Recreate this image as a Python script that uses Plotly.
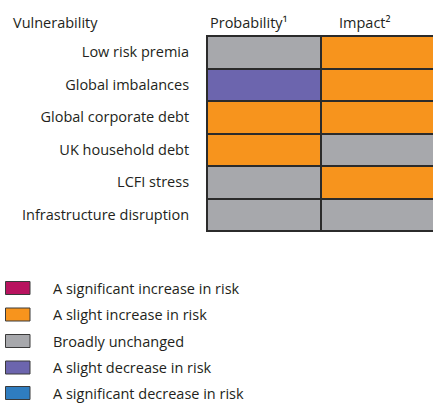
import plotly.graph_objects as go

# Data
vulnerabilities = ["Low risk premia", "Global imbalances", "Global corporate debt",
                   "UK household debt", "LCFI stress", "Infrastructure disruption"]
columns = ["Probability¹", "Impact²"]
# category codes: 0 sig decrease, 1 slight decrease, 2 unchanged, 3 slight increase, 4 sig increase
probability = [2, 1, 3, 3, 2, 2]
impact = [3, 3, 3, 2, 3, 2]
legend_labels = ["A significant increase in risk", "A slight increase in risk",
                 "Broadly unchanged", "A slight decrease in risk",
                 "A significant decrease in risk"]
legend_codes = [4, 3, 2, 1, 0]

colors = {0: "#2F7DC0", 1: "#6C65AE", 2: "#A7A8AC", 3: "#F7941D", 4: "#B8135F"}

colorscale = []
for k in range(5):
    colorscale.append([k / 5, colors[k]])
    colorscale.append([(k + 1) / 5, colors[k]])

z = [[p, i] for p, i in zip(probability, impact)]

W, H = 433, 403
left, right, top, bottom = 207, 433, 36, 231
txt = "#231F20"
font = "Open Sans"
fs = 14.5

fig = go.Figure(go.Heatmap(
    z=z, x=[0, 1], y=vulnerabilities,
    colorscale=colorscale, zmin=-0.5, zmax=4.5,
    showscale=False, xgap=2, ygap=2, hoverinfo="skip",
))

pw, ph = right - left, bottom - top
def px(xp):
    return (xp - left) / pw
def py(yp):
    return (bottom - yp) / ph

annotations = [
    dict(text="Vulnerability", x=px(11), y=py(22)),
    dict(text="Probability¹", x=px(208), y=py(22)),
    dict(text="Impact²", x=px(337), y=py(22)),
]
shapes = []
ys = [288, 314.5, 341, 367.5, 393]
for lab, code, yc in zip(legend_labels, legend_codes, ys):
    annotations.append(dict(text=lab, x=px(51), y=py(yc)))
    shapes.append(dict(type="rect", xref="paper", yref="paper",
                       x0=px(5.5), x1=px(30), y0=py(yc - 6.5), y1=py(yc + 6.5),
                       fillcolor=colors[code], line=dict(color="#3a3a3a", width=1)))
for a in annotations:
    a.update(xref="paper", yref="paper", xanchor="left", yanchor="middle",
             showarrow=False, font=dict(size=fs, color=txt, family=font))

fig.update_layout(
    width=W, height=H,
    margin=dict(l=left, r=W - right, t=top, b=H - bottom, pad=0),
    paper_bgcolor="white", plot_bgcolor="#2b2b2b",
    font=dict(family=font, size=fs, color=txt),
    annotations=annotations, shapes=shapes,
    xaxis=dict(range=[-0.5, 1.48], showticklabels=False, showgrid=False,
               zeroline=False, showline=True, mirror=True, linecolor="#2b2b2b",
               linewidth=1, fixedrange=True),
    yaxis=dict(autorange="reversed", showgrid=False, zeroline=False,
               showline=True, linecolor="#2b2b2b", linewidth=1,
               ticks="", ticklabelstandoff=14, tickfont=dict(size=fs, color=txt),
               fixedrange=True),
)

fig.write_html("out.html", config={"displayModeBar": False},
               post_script="document.body.style.margin='0';document.body.style.padding='0';")
